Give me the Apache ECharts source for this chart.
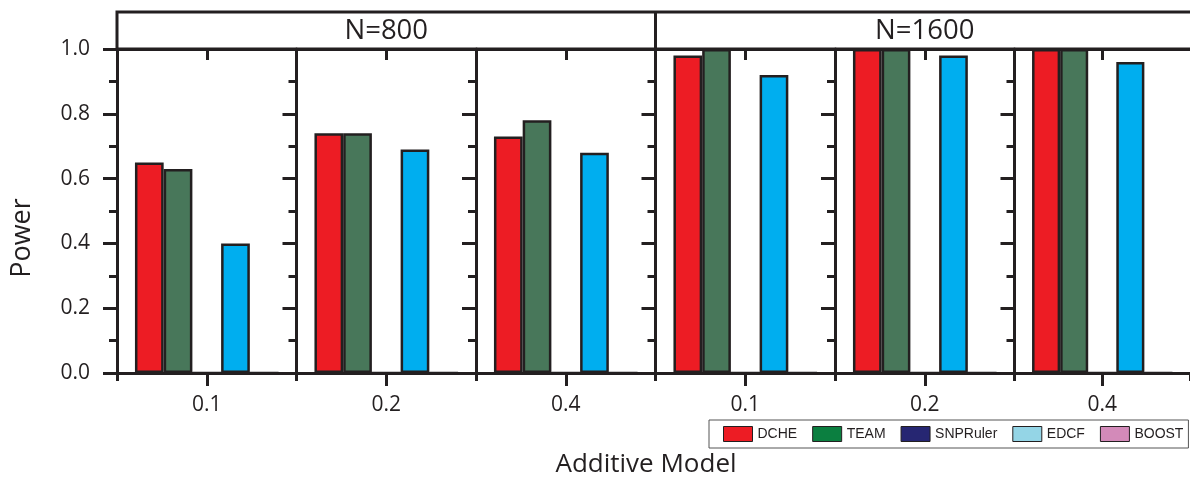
<!DOCTYPE html>
<html>
<head>
<meta charset="utf-8">
<script src="https://cdn.jsdelivr.net/npm/echarts@6/dist/echarts.min.js"></script>
<style>
html,body{margin:0;padding:0;background:#fff;}
#chart{width:1190px;height:478px;}
</style>
</head>
<body>
<div id="chart"></div>
<script>
// ---- data ----
const groupLabels = ['N=800', 'N=1600'];
const categories = ['0.1', '0.2', '0.4', '0.1', '0.2', '0.4'];
const seriesNames = ['DCHE', 'TEAM', 'SNPRuler', 'EDCF', 'BOOST'];
const dche     = [0.65, 0.74, 0.73, 0.98, 1.00, 1.00];
const team     = [0.63, 0.74, 0.78, 1.00, 1.00, 1.00];
const snpruler = [0, 0, 0, 0, 0, 0];
const edcf     = [0.40, 0.69, 0.68, 0.92, 0.98, 0.96];
const boost    = [0, 0, 0, 0, 0, 0];
const yTickLabels = ['0.0', '0.2', '0.4', '0.6', '0.8', '1.0'];
const xTitle = 'Additive Model';
const yTitle = 'Power';

// ---- styling ----
const values = [dche, team, snpruler, edcf, boost];
const barColors = ['#ED1C24', '#48775A', '#262672', '#00AEEF', '#D38AB9'];
const legendColors = ['#ED1C24', '#0B7F40', '#262672', '#94D5E6', '#D38AB9'];
const ink = '#231F20';
const font = 'Open Sans';

const gLeft = 117, gTop = 49, gH = 324, gW = 179.5;

const grids = [], xAxes = [], yAxes = [], series = [];
categories.forEach((cat, i) => {
  grids.push({ left: gLeft + i * gW, top: gTop, width: gW, height: gH, containLabel: false });
  // bottom axis with boundary ticks and labels
  xAxes.push({
    gridIndex: i, type: 'category', data: [cat], position: 'bottom',
    axisLine: { show: true, lineStyle: { color: ink, width: 3 } },
    axisTick: { show: true, alignWithLabel: false, length: 8, lineStyle: { color: ink, width: 3 } },
    axisLabel: { show: true, color: '#231F20', fontFamily: font, fontSize: 21, margin: 22 },
    splitLine: { show: false }
  });
  // bottom center tick
  xAxes.push({
    gridIndex: i, type: 'category', data: [cat], position: 'bottom',
    axisLine: { show: false },
    axisTick: { show: true, alignWithLabel: true, length: 13, lineStyle: { color: ink, width: 3 } },
    axisLabel: { show: false }, splitLine: { show: false }
  });
  // top frame with inner center tick
  xAxes.push({
    gridIndex: i, type: 'category', data: [cat], position: 'top',
    axisLine: { show: true, lineStyle: { color: ink, width: 3 } },
    axisTick: { show: true, inside: true, alignWithLabel: true, length: 11, lineStyle: { color: ink, width: 3 } },
    axisLabel: { show: false }, splitLine: { show: false }
  });
  yAxes.push({
    gridIndex: i, type: 'value', min: 0, max: 1, interval: 0.2, position: 'left',
    axisLine: { show: true, lineStyle: { color: ink, width: 3 } },
    axisTick: { show: true, length: 14, lineStyle: { color: ink, width: 3 } },
    minorTick: { show: true, splitNumber: 2, length: 8, lineStyle: { color: ink, width: 3 } },
    splitLine: { show: false }, minorSplitLine: { show: false },
    axisLabel: {
      show: i === 0, color: '#231F20', fontFamily: font, fontSize: 21, margin: 27,
      formatter: v => yTickLabels[Math.round(v / 0.2)]
    }
  });
  seriesNames.forEach((name, s) => {
    series.push({
      name: name, type: 'bar', xAxisIndex: i * 3, yAxisIndex: i,
      data: [values[s][i]],
      barCategoryGap: '20%', barGap: '0%',
      itemStyle: { color: barColors[s], borderColor: ink, borderWidth: 2.5 },
      emphasis: { disabled: true },
      animation: false
    });
  });
});

const option = {
  animation: false,
  backgroundColor: '#fff',
  grid: grids,
  xAxis: xAxes,
  yAxis: yAxes,
  series: series,
  legend: {
    left: 709, top: 420, width: 470,
    padding: [6, 5, 6, 14],
    itemGap: 15, itemWidth: 29, itemHeight: 15,
    borderColor: '#555', borderWidth: 1,
    icon: 'rect',
    textStyle: { fontFamily: 'Liberation Sans', fontSize: 14, color: '#231F20' },
    data: seriesNames.map((n, s) => ({ name: n, itemStyle: { color: legendColors[s], borderColor: ink, borderWidth: 1 } })),
    selectedMode: false
  },
  graphic: [
    { type: 'rect', z: 100, shape: { x: gLeft, y: 12, width: 1100, height: 37 },
      style: { fill: null, stroke: ink, lineWidth: 3 } },
    { type: 'line', z: 100, shape: { x1: gLeft + 3 * gW, y1: 12, x2: gLeft + 3 * gW, y2: 49 },
      style: { stroke: ink, lineWidth: 3 } },
    { type: 'text', z: 100, x: gLeft + 1.5 * gW, y: 31,
      style: { text: groupLabels[0], fontFamily: font, fontSize: 27.5, fill: '#231F20', textAlign: 'center', textVerticalAlign: 'middle' } },
    { type: 'text', z: 100, x: gLeft + 4.5 * gW, y: 31,
      style: { text: groupLabels[1], fontFamily: font, fontSize: 27.5, fill: '#231F20', textAlign: 'center', textVerticalAlign: 'middle' } },
    { type: 'text', z: 100, x: 646, y: 465,
      style: { text: xTitle, fontFamily: font, fontSize: 26, fill: '#231F20', textAlign: 'center', textVerticalAlign: 'middle' } },
    { type: 'text', z: 100, x: 22, y: 238, rotation: Math.PI / 2,
      style: { text: yTitle, fontFamily: font, fontSize: 27, fill: '#231F20', textAlign: 'center', textVerticalAlign: 'middle' } }
  ]
};

const chart = echarts.init(document.getElementById('chart'), null, { renderer: 'canvas' });
chart.setOption(option);
</script>
</body>
</html>
